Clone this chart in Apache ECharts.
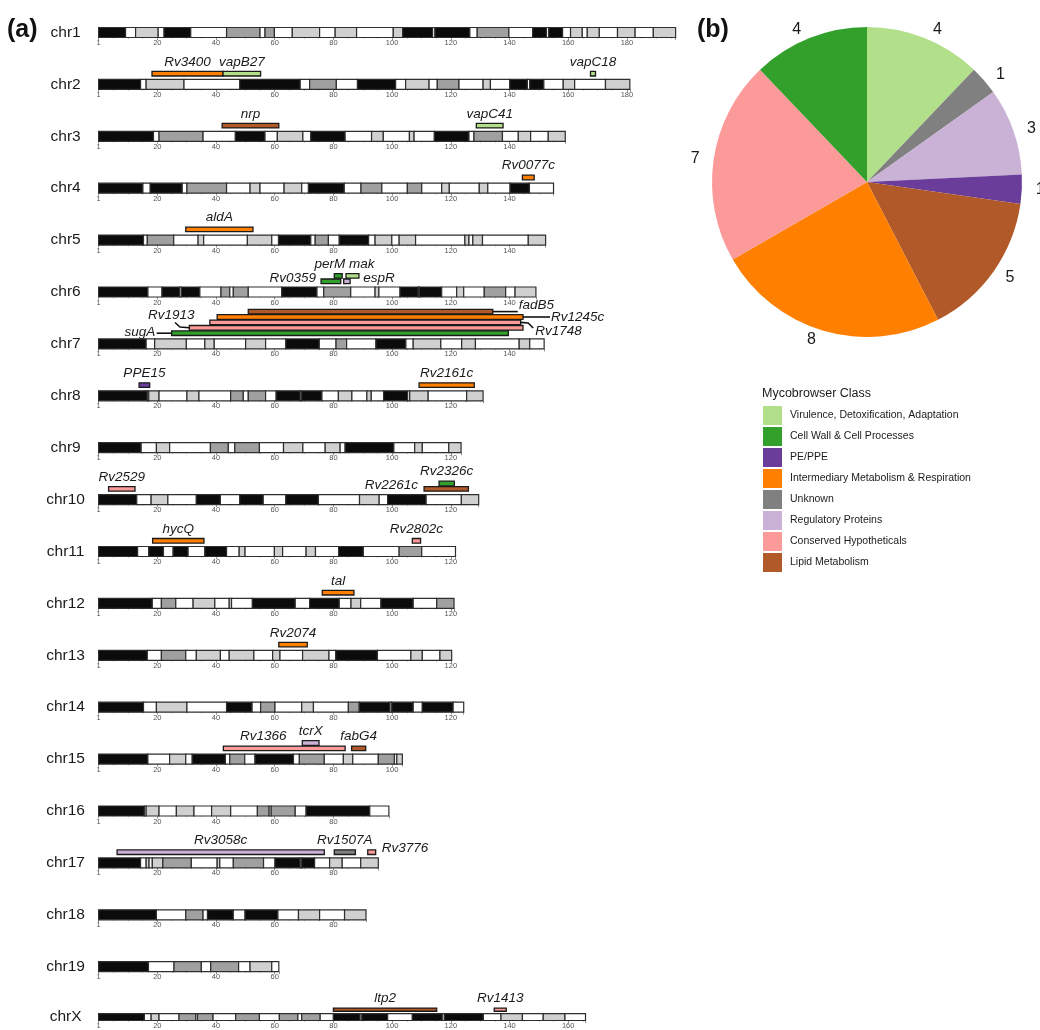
<!DOCTYPE html>
<html>
<head>
<meta charset="utf-8">
<title>Mycobrowser genes</title>
<script src="https://cdn.jsdelivr.net/npm/echarts@6/dist/echarts.min.js"></script>
<style>
html, body { margin: 0; padding: 0; background: #fff; }
#main { width: 1040px; height: 1030px; }
</style>
</head>
<body>
<div id="main"></div>
<script>
// chromosome ideograms: band end positions and band shades (k black, w white, l light, m mid grey)
var chromNames = ['chr1', 'chr2', 'chr3', 'chr4', 'chr5', 'chr6', 'chr7', 'chr8', 'chr9', 'chr10',
  'chr11', 'chr12', 'chr13', 'chr14', 'chr15', 'chr16', 'chr17', 'chr18', 'chr19', 'chrX'];
var bandEnds = [
  [9.2, 12.6, 20.3, 22.3, 31.4, 43.6, 55, 56.7, 59.9, 66, 75.3, 80.6, 87.9, 100.4, 103.6, 113.8, 114.6, 126.5, 129, 139.8, 147.9, 152.6, 153.4, 158.1, 160.8, 164.8, 166.5, 170.6, 176.8, 182.8, 189, 196.6],
  [14.3, 16.2, 29.1, 48.1, 68.7, 71.9, 81, 88.2, 101.2, 104.6, 112.6, 115.4, 122.8, 131, 133.5, 140.1, 146.1, 146.9, 151.7, 158.3, 162.2, 172.7, 181],
  [18.7, 20.6, 35.6, 46.6, 56.7, 60.9, 69.6, 72.3, 84, 93, 97, 105.9, 107.5, 114.4, 126.2, 127.9, 137.6, 143, 147.2, 153.2, 159],
  [15.1, 17.6, 28.5, 30.1, 43.6, 51.6, 55, 63.2, 69.2, 71.5, 83.7, 89.4, 96.5, 105.2, 110.1, 116.9, 119.5, 129.7, 132.6, 140.2, 146.8, 155],
  [15.3, 16.6, 25.6, 33.9, 35.8, 50.7, 59, 61.3, 72.3, 73.8, 78.3, 82, 92, 94.2, 99.9, 102.4, 108, 124.8, 126.2, 127.5, 130.8, 146.4, 152.3],
  [16.8, 21.6, 27.6, 28.2, 34.5, 41.7, 44.7, 45.9, 51, 62.4, 74.4, 76.7, 85.9, 94.2, 95.5, 102.7, 108.9, 109.3, 116.9, 122, 124.4, 131.4, 138.7, 141.9, 149],
  [16.2, 19.1, 29.9, 36.2, 39.4, 50.1, 56.9, 63.8, 75.2, 80.9, 84.5, 94.5, 104.7, 107.2, 116.6, 123.7, 128.4, 143.3, 146.9, 151.8],
  [16.6, 17.1, 20.6, 30.1, 34.2, 45, 49.3, 51, 56.9, 60.5, 68.7, 69.2, 76.1, 81.7, 86.3, 91.4, 92.9, 97.1, 105.3, 106, 112.3, 125.4, 131],
  [14.5, 19.7, 24.2, 38.1, 44.2, 46.4, 54.8, 63, 69.6, 77.2, 82.3, 84, 100.6, 107.7, 110.3, 119.3, 123.5],
  [13, 17.9, 23.6, 33.3, 41.5, 48.1, 56.1, 63.8, 74.9, 88.9, 95.6, 98.5, 111.6, 123.6, 129.5],
  [13.3, 17.1, 22.1, 25.4, 30.5, 36.2, 43.6, 47.9, 49.9, 59.9, 62.7, 70.7, 73.9, 81.8, 90.2, 102.4, 110.1, 121.6],
  [18.3, 21.4, 26.3, 32.2, 39.6, 44.5, 45.3, 52.4, 67, 71.9, 82, 86, 89.3, 96.2, 107.2, 115.2, 121.1],
  [16.6, 21.4, 29.7, 33.3, 41.5, 44.5, 52.9, 59.3, 61.8, 69.5, 78.5, 80.8, 95, 106.4, 110.3, 116.3, 120.3],
  [15.3, 19.7, 30.1, 43.6, 52.3, 55.2, 60.1, 69.2, 73.2, 85.1, 88.8, 99.3, 99.9, 107.2, 110.3, 120.8, 124.4],
  [16.8, 24.2, 29.7, 31.9, 43.2, 44.7, 49.8, 53.3, 66.4, 68.4, 76.9, 83.4, 86.6, 95.3, 100.8, 101.6, 103.5],
  [15.6, 16.2, 20.6, 26.5, 32.5, 38.5, 45, 54.1, 58.1, 58.8, 67, 70.7, 92.4, 98.9],
  [14.3, 16.2, 17.2, 18.3, 21.9, 31.6, 40.4, 41.3, 45.9, 56.2, 60.1, 68.7, 69.2, 73.6, 78.7, 83, 89.3, 95.3],
  [19.7, 29.7, 35.6, 37.1, 45.9, 49.9, 61.1, 68.1, 75.3, 83.8, 91.1],
  [17, 25.7, 35, 38.2, 47.7, 51.6, 59, 61.4],
  [15.6, 17.9, 20.6, 27.4, 33.1, 33.7, 39, 46.7, 54.8, 61.6, 67.9, 69.2, 75.5, 80, 89.1, 89.7, 98.5, 106.9, 117.1, 117.8, 131.1, 137.1, 144.4, 151.5, 158.9, 165.9]
];
var bandTypes = [
  'kwlwkwmwmwlwlwlkwkwmwkwkwlwlwlwl',
  'kwlwkwmwkwlwmwlwkwkwlwl',
  'kwmwkwlwkwlwlwkwmwlwl',
  'kwkwmwlwlwkwmwmwlwlwkw',
  'kwmwlwlwkwmwkwlwlwlwlwl',
  'kwkwkwmwmwkwmwlwkwkwlwmwl',
  'kwlwlwlwkwmwkwlwlwlw',
  'kwlwlwmwmwkwkwlwlwkwlwl',
  'kwlwmwmwlwlwkwlwl',
  'kwlwkwkwkwlwkwl',
  'kwkwkwkwlwlwlwkwmw',
  'kwmwlwlwkwkwlwkwm',
  'kwmwlwlwlwlwkwlwl',
  'kwlwkwmwlwmkwkwkw',
  'kwlwkwmwkwmwlwmwl',
  'kwlwlwlwmwmwkw',
  'kwlwlmwlwmwkwkwlwl',
  'kwmwkwkwlwl',
  'kwmwmwlw',
  'kwlwmwmwmwmwmwkwkwkwkwlwlw'
];

// genes: chromosome index, start, end, stacking track, Mycobrowser class index
var geneNames = ['Rv3400', 'vapB27', 'vapC18', 'nrp', 'vapC41', 'Rv0077c', 'aldA', 'Rv0359', 'perM', 'mak', 'espR',
  'sugA', 'Rv1913', 'Rv1748', 'Rv1245c', 'fadB5', 'PPE15', 'Rv2161c', 'Rv2529', 'Rv2261c', 'Rv2326c', 'hycQ',
  'Rv2802c', 'tal', 'Rv2074', 'Rv1366', 'tcrX', 'fabG4', 'Rv3058c', 'Rv1507A', 'Rv3776', 'ltp2', 'Rv1413'];
var geneChrom = [1, 1, 1, 2, 2, 3, 4, 5, 5, 5, 5, 6, 6, 6, 6, 6, 7, 7, 9, 9, 9, 10, 10, 11, 12, 14, 14, 14, 16, 16, 16, 19, 19];
var geneStart = [18.2, 42.4, 167.6, 42.1, 128.7, 144.4, 29.7, 75.8, 80.3, 84.3, 83.5, 24.9, 30.9, 37.9, 40.4, 51.0,
  13.8, 109.2, 3.4, 110.9, 116, 18.4, 106.9, 76.2, 61.4, 42.5, 69.4, 86.2, 6.3, 80.3, 91.7, 80, 134.8];
var geneEnd = [42.4, 55.2, 169.3, 61.4, 137.8, 148.4, 52.6, 82.5, 83.0, 88.7, 85.7, 139.6, 144.6, 143.8, 144.6, 134.3,
  17.4, 128, 12.4, 126, 121.2, 35.9, 109.7, 87.0, 71.1, 84.0, 75.1, 91.0, 76.9, 87.5, 94.4, 115.2, 138.9];
var geneTrack = [0, 0, 0, 0, 0, 0, 0, 0, 1, 1, 0, 0, 1, 2, 3, 4, 0, 0, 0, 0, 1, 0, 0, 0, 0, 0, 1, 0, 0, 0, 0, 0, 0];
var geneClass = [3, 0, 0, 7, 0, 3, 3, 1, 1, 0, 5, 1, 6, 6, 3, 7, 2, 3, 6, 7, 1, 3, 6, 3, 3, 6, 5, 7, 5, 4, 6, 7, 6];

// panel (b)
var classNames = ['Virulence, Detoxification, Adaptation', 'Cell Wall & Cell Processes', 'PE/PPE',
  'Intermediary Metabolism & Respiration', 'Unknown', 'Regulatory Proteins', 'Conserved Hypotheticals', 'Lipid Metabolism'];
var classColors = ['#b2df8a', '#33a02c', '#6a3d9a', '#ff7f00', '#808080', '#cab2d6', '#fb9a99', '#b15928'];
var pieOrder = [0, 4, 5, 2, 7, 3, 6, 1];
var pieCounts = [4, 1, 3, 1, 5, 8, 7, 4];

// layout
var PX = 2.935, LEFT = 98.6, ROW0 = 32.5, ROW_STEP = 51.9;
var FONT = '"Liberation Sans", Arial, sans-serif';
var BAND_FILL = { k: '#0b0b0b', w: '#ffffff', l: '#d0d0d0', m: '#a0a0a0' };
var BAND_KEYS = ['k', 'w', 'l', 'm'];

// label placement tweaks (everything else is centred over its bar)
var labelSpec = {
  Rv0359: { side: 'left', dx: -5, dy: -3.5 },
  espR: { side: 'right', dx: 13, dy: -3 },
  perM: { side: 'topEnd', dx: 3 },
  mak: { side: 'topStart', dx: 3 },
  Rv2261c: { side: 'left', dx: -6, dy: -4 },
  Rv3776: { side: 'right', dx: 6, dy: -4 },
  Rv1366: { side: 'top', dx: -21 },
  sugA: { side: 'leadLeft' },
  Rv1913: { side: 'leadUp' },
  fadB5: { side: 'leadRight', len: 25, dy: -6 },
  Rv1245c: { side: 'leadRight', len: 27, dy: 0 },
  Rv1748: { side: 'leadDown' }
};

function renderBand(params, api) {
  var a = api.coord([api.value(0), 1]);
  var b = api.coord([api.value(1), 0]);
  return {
    type: 'rect',
    shape: { x: a[0], y: a[1], width: b[0] - a[0], height: b[1] - a[1] },
    style: { fill: BAND_FILL[BAND_KEYS[api.value(2)]], stroke: '#2e2e2e', lineWidth: 1.2 }
  };
}

function renderGene(params, api) {
  var gi = api.value(4);
  var name = geneNames[gi];
  var yc = 1.57 + 0.54 * api.value(2);
  var a = api.coord([api.value(0), yc + 0.23]);
  var b = api.coord([api.value(1), yc - 0.23]);
  var cy = (a[1] + b[1]) / 2;
  var spec = labelSpec[name] || { side: 'top', dx: 0 };
  var tx, ty, align = 'center', va = 'middle', line = null;
  switch (spec.side) {
    case 'left':
      tx = a[0] + spec.dx; ty = cy + spec.dy; align = 'right'; break;
    case 'right':
      tx = b[0] + spec.dx; ty = cy + spec.dy; align = 'left'; break;
    case 'topEnd':
      tx = b[0] + spec.dx; ty = a[1] - 2.5; align = 'right'; va = 'bottom'; break;
    case 'topStart':
      tx = a[0] + spec.dx; ty = a[1] - 2.5; align = 'left'; va = 'bottom'; break;
    case 'leadLeft':
      line = [[a[0] - 15, cy], [a[0], cy]];
      tx = a[0] - 16.5; ty = cy - 1; align = 'right'; break;
    case 'leadUp':
      line = [[a[0] - 14.3, cy - 5.3], [a[0] - 9.3, cy - 0.8], [a[0], cy]];
      tx = a[0] - 18; ty = cy - 12.5; break;
    case 'leadRight':
      line = [[b[0], cy], [b[0] + spec.len, cy]];
      tx = b[0] + spec.len + 1; ty = cy + spec.dy; align = 'left'; break;
    case 'leadDown':
      line = [[b[0], cy], [b[0] + 7.5, cy + 0.6], [b[0] + 12.5, cy + 5.6]];
      tx = b[0] + 14.5; ty = cy + 9; align = 'left'; break;
    default:
      tx = (a[0] + b[0]) / 2 + spec.dx; ty = a[1] - 2.5; va = 'bottom';
  }
  var children = [{
    type: 'rect',
    shape: { x: a[0], y: a[1], width: b[0] - a[0], height: b[1] - a[1] },
    style: { fill: classColors[api.value(3)], stroke: '#1a1a1a', lineWidth: 1.3 }
  }, {
    type: 'text',
    style: {
      text: name, x: tx, y: ty, align: align, verticalAlign: va,
      fontSize: 13.5, fontStyle: 'italic', fontFamily: FONT, fill: '#1a1a1a'
    }
  }];
  if (line) {
    children.push({ type: 'polyline', shape: { points: line }, style: { stroke: '#111', lineWidth: 1.6, fill: null } });
  }
  return { type: 'group', children: children };
}

var grids = [], xAxes = [], yAxes = [], series = [];
chromNames.forEach(function (name, i) {
  var ends = bandEnds[i];
  var len = ends[ends.length - 1];
  var bands = ends.map(function (e, j) {
    return [j === 0 ? 0 : ends[j - 1], e, BAND_KEYS.indexOf(bandTypes[i].charAt(j))];
  });
  grids.push({ left: LEFT, top: ROW0 + i * ROW_STEP - 5, width: len * PX, height: 10 });
  xAxes.push({
    type: 'value', gridIndex: i, min: 0, max: len, interval: 20,
    axisLine: { show: false },
    axisTick: { show: true, length: 2.5, lineStyle: { color: '#777', width: 0.8 } },
    minorTick: { show: true, splitNumber: 4, length: 1.5, lineStyle: { color: '#aaa', width: 0.6 } },
    splitLine: { show: false },
    axisLabel: {
      margin: 1.5, fontSize: 7.5, color: '#555', fontFamily: FONT,
      formatter: function (v) { return v === 0 ? '1' : (v % 20 === 0 ? String(v) : ''); }
    }
  });
  yAxes.push({
    type: 'value', gridIndex: i, min: 0, max: 1, interval: 0.5,
    axisLine: { show: false }, axisTick: { show: false }, splitLine: { show: false },
    axisLabel: {
      align: 'center', margin: 33, fontSize: 15.5, color: '#1a1a1a', fontFamily: FONT,
      formatter: function (v) { return v === 0.5 ? name : ''; }
    }
  });
  series.push({
    type: 'custom', xAxisIndex: i, yAxisIndex: i, renderItem: renderBand,
    data: bands, silent: true, z: 2
  });
  var genes = [];
  geneNames.forEach(function (g, k) {
    if (geneChrom[k] === i) genes.push([geneStart[k], geneEnd[k], geneTrack[k], geneClass[k], k]);
  });
  if (genes.length) {
    series.push({
      type: 'custom', xAxisIndex: i, yAxisIndex: i, renderItem: renderGene,
      data: genes, silent: true, z: 3
    });
  }
});

series.push({
  type: 'pie',
  center: [867, 182],
  radius: 155,
  startAngle: 90,
  clockwise: true,
  avoidLabelOverlap: false,
  data: pieOrder.map(function (c, k) {
    return { name: classNames[c], value: pieCounts[k], itemStyle: { color: classColors[c] } };
  }),
  label: { show: true, position: 'outside', formatter: '{c}', fontSize: 16, color: '#1a1a1a', fontFamily: FONT },
  labelLine: { show: false, length: 9, length2: 0 },
  itemStyle: { borderWidth: 0 },
  emphasis: { disabled: true }
});

var chart = echarts.init(document.getElementById('main'));
chart.setOption({
  backgroundColor: '#ffffff',
  animation: false,
  title: [
    { text: '(a)', left: 7, top: 18, padding: 0, textStyle: { fontSize: 25, fontWeight: 'bold', color: '#111', fontFamily: FONT } },
    { text: '(b)', left: 697, top: 18, padding: 0, textStyle: { fontSize: 25, fontWeight: 'bold', color: '#111', fontFamily: FONT } },
    { text: 'Mycobrowser Class', left: 762, top: 387, padding: 0, textStyle: { fontSize: 12.5, fontWeight: 'normal', color: '#1a1a1a', fontFamily: FONT } }
  ],
  legend: {
    data: classNames,
    orient: 'vertical',
    left: 763,
    top: 406,
    padding: 0,
    itemWidth: 19,
    itemHeight: 19,
    itemGap: 2,
    icon: 'rect',
    selectedMode: false,
    textStyle: { fontSize: 10.5, color: '#1a1a1a', fontFamily: FONT, padding: [0, 0, 0, 3] }
  },
  grid: grids,
  xAxis: xAxes,
  yAxis: yAxes,
  series: series
});
</script>
</body>
</html>
